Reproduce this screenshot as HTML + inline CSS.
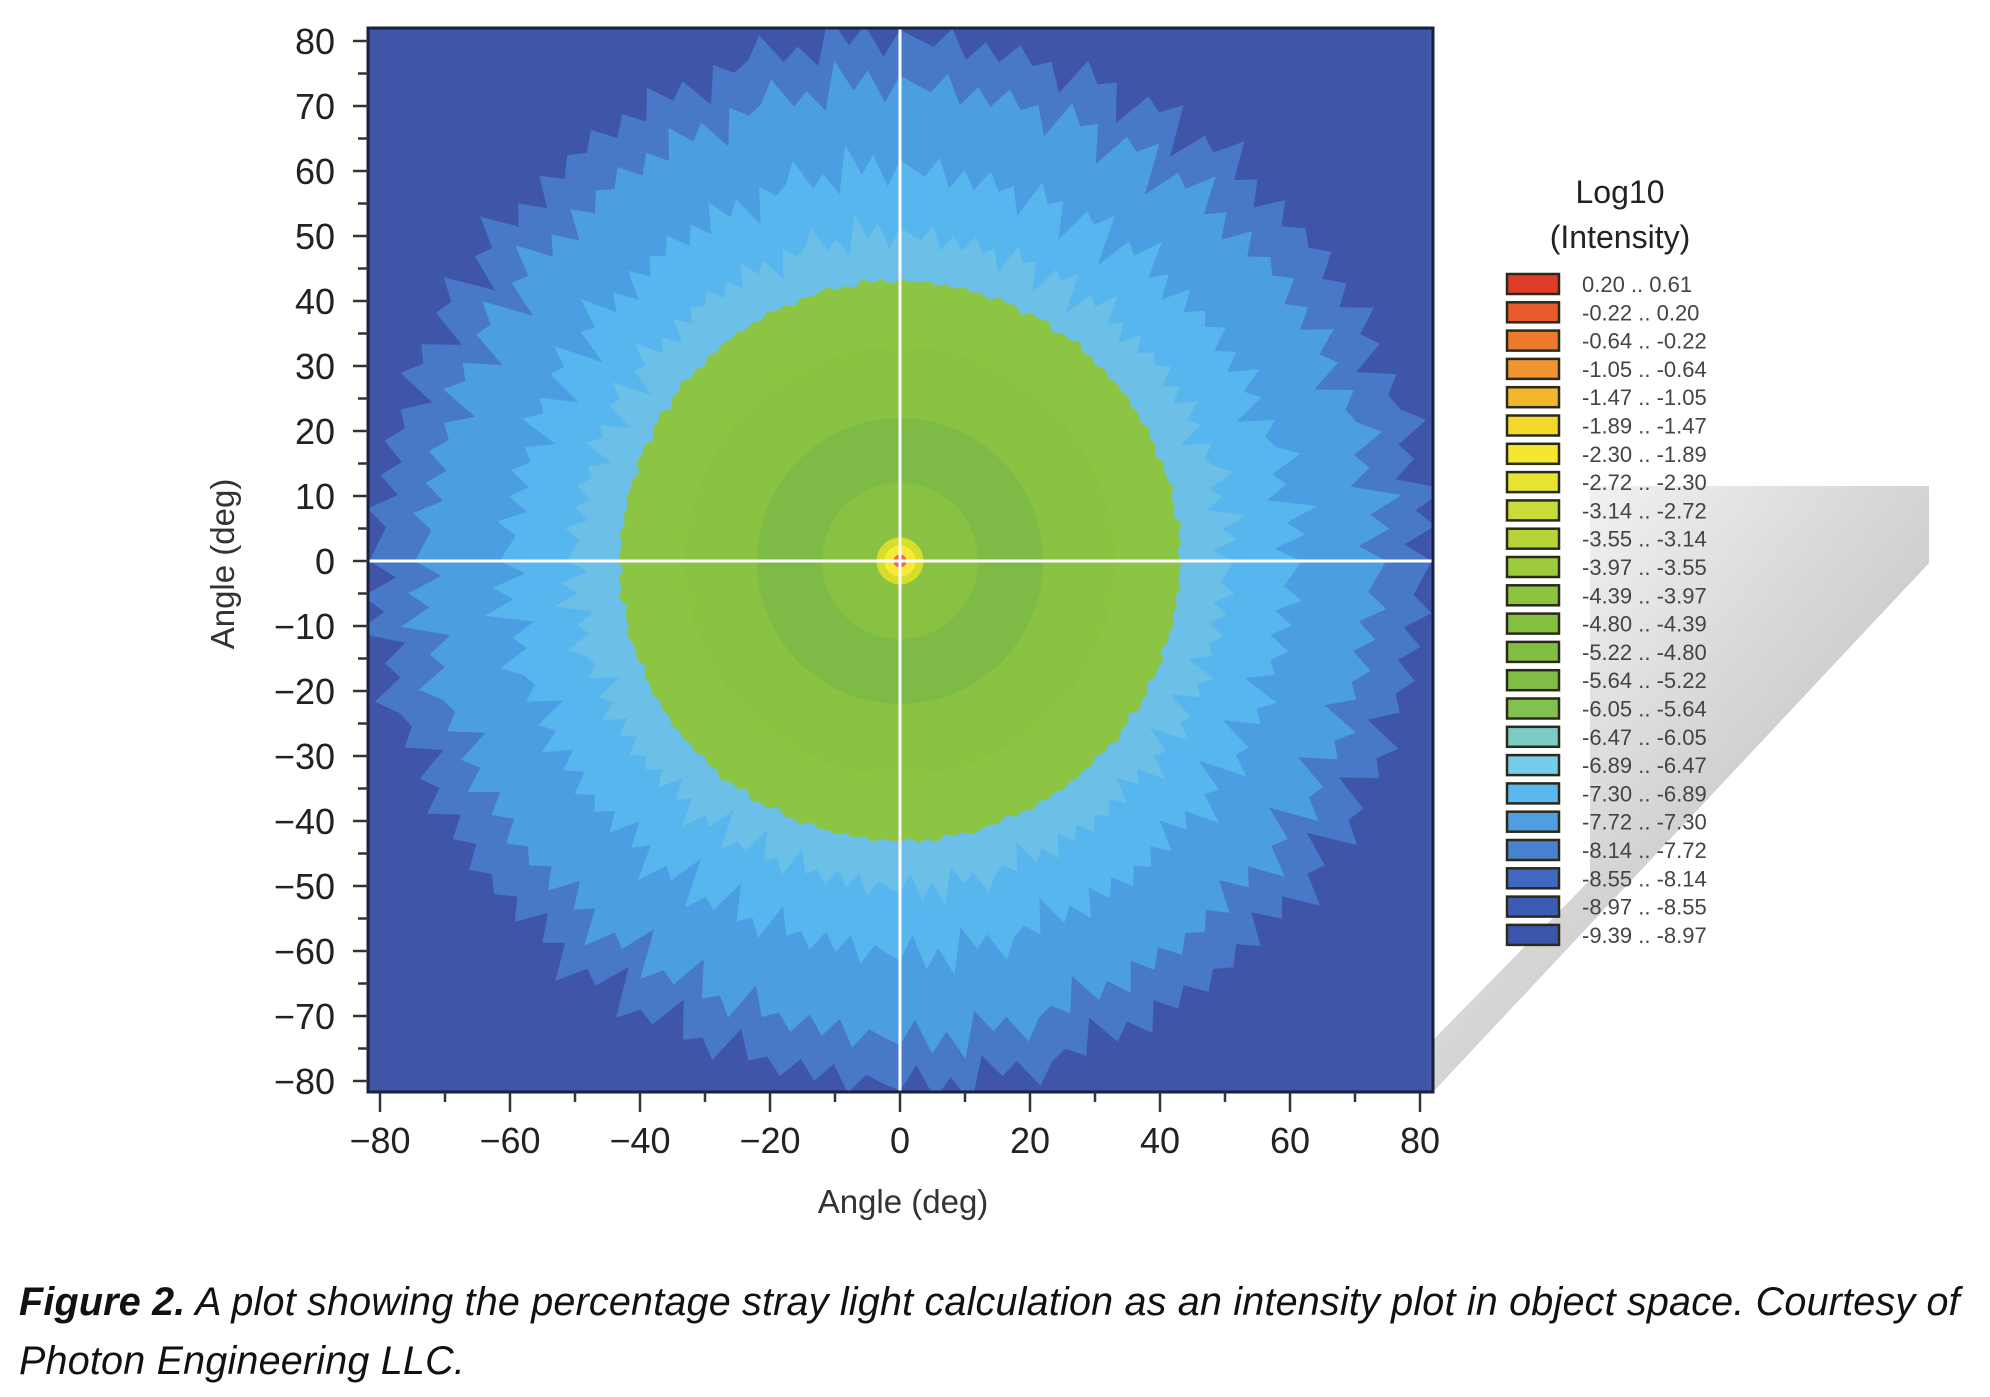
<!DOCTYPE html>
<html><head><meta charset="utf-8"><style>
body{margin:0;width:1990px;height:1397px;background:#fff;overflow:hidden;font-family:"Liberation Sans",sans-serif}
svg{position:absolute;left:0;top:0}
.cap{position:absolute;left:19px;font-size:39.5px;font-style:italic;color:#111;line-height:59px;top:1273px;white-space:nowrap;letter-spacing:0.2px}
</style></head><body>
<svg width="1990" height="1397" id="chart">
<defs>
<linearGradient id="sh" x1="0" y1="0" x2="1" y2="1"><stop offset="0" stop-color="#fff"/><stop offset="0.55" stop-color="#c4c4c4"/><stop offset="1" stop-color="#8a8a8a"/></linearGradient>
<clipPath id="pc"><rect x="368" y="28" width="1065" height="1064"/></clipPath>
</defs>
<polygon points="1590,486 1929,486 1929,563 1433,1092 1433,1040 1590,880" fill="url(#sh)" opacity="0.8"/>
<g id="plot" clip-path="url(#pc)">
<rect x="368" y="28" width="1065" height="1064" fill="#3f56a8"/>
</g>
<g id="axes"></g>
<g id="legend"></g>
</svg>
<div class="cap"><b>Figure 2.</b> A plot showing the percentage stray light calculation as an intensity plot in object space. Courtesy of<br>Photon Engineering LLC.</div>
<script>
// radial bands: outer radius (deg) and color, drawn outermost first
const bandRadius=[80,73,60,50,43,33,22,12,3.6,2.4,1];
const bandColor=["#4878c8","#4c9ee2","#58b6ee","#6cbfe6","#8cc443","#8ac242","#7dbb46","#89c243","#d6de2a","#f6ea38","#f06060"];
const bandJitter=[1,1,1,0.8,0.15,0,0,0,0,0,0];
// angular perturbation of outer bands (deg), 48 directions
const spike=[3,-4,5,-2,6,-5,2,-6,4,1,-3,5,-4,3,-5,6,-2,4,-6,3,-1,5,-4,2,-5,4,-3,6,-2,3,-6,5,-1,4,-5,2,-3,6,-4,1,-5,3,-2,5,-6,4,-1,3];
const xTicks=[-80,-60,-40,-20,0,20,40,60,80];
const yTicks=[80,70,60,50,40,30,20,10,0,-10,-20,-30,-40,-50,-60,-70,-80];
const legendLow=["0.20","-0.22","-0.64","-1.05","-1.47","-1.89","-2.30","-2.72","-3.14","-3.55","-3.97","-4.39","-4.80","-5.22","-5.64","-6.05","-6.47","-6.89","-7.30","-7.72","-8.14","-8.55","-8.97","-9.39"];
const legendHigh=["0.61","0.20","-0.22","-0.64","-1.05","-1.47","-1.89","-2.30","-2.72","-3.14","-3.55","-3.97","-4.39","-4.80","-5.22","-5.64","-6.05","-6.47","-6.89","-7.30","-7.72","-8.14","-8.55","-8.97"];
const legendColor=["#e03a2a","#e85a2a","#ec7a2c","#ef9430","#f2b72c","#f5d92a","#f4e72e","#e6e432","#c9db38","#b6d43a","#9ccb3e","#8cc43f","#86c040","#82be42","#80bd45","#82c050","#7ccbc4","#76cdea","#5ab8ec","#4e9ee0","#4a80d0","#4068c0","#3c5cb4","#3c55ac"];
const NS="http://www.w3.org/2000/svg";
const S=6.5;
const X=v=>900+v*S, Y=v=>561-v*S, R=r=>r*S;
function mk(t,a,p){const e=document.createElementNS(NS,t);for(const k in a)e.setAttribute(k,a[k]);p.appendChild(e);return e;}
const plot=document.getElementById('plot');
bandRadius.forEach((r,i)=>{
  let pts=[];const n=spike.length*4;
  for(let k=0;k<n;k++){const a=k/n*2*Math.PI;const s=spike[k%spike.length]*(k%2?0.6:1)*bandJitter[i];
    const rr=r+s*(0.6+0.4*Math.sin(k*1.7));pts.push((X(0)+R(rr)*Math.cos(a)).toFixed(1)+','+(Y(0)-R(rr)*Math.sin(a)).toFixed(1));}
  const p=mk('polygon',{points:pts.join(' '),fill:bandColor[i]},plot);
  
  
});
const ax=document.getElementById('axes');
let l1=mk('line',{x1:X(0),x2:X(0),y1:28,y2:1092,stroke:'#fff','stroke-width':3},ax);


let l2=mk('line',{x1:368,x2:1433,y1:Y(0),y2:Y(0),stroke:'#fff','stroke-width':3},ax);


let fr=mk('rect',{x:368,y:28,width:1065,height:1064,fill:'none',stroke:'#1a2040','stroke-width':3},ax);


for(let v=-80;v<=80;v+=5){mk('line',{x1:368,x2:v%10==0?353:358,y1:Y(v),y2:Y(v),stroke:'#333','stroke-width':2.5},ax);}
for(let v=-80;v<=80;v+=10){mk('line',{x1:X(v),x2:X(v),y1:1092,y2:v%20==0?1112:1102,stroke:'#333','stroke-width':2.5},ax);}
const fmt=v=>v<0?'\u2212'+(-v):''+v;
xTicks.forEach(v=>{const t=mk('text',{x:X(v),y:1153,'text-anchor':'middle','font-size':36,fill:'#222'},ax);t.textContent=fmt(v);
  
  });
yTicks.forEach(v=>{const t=mk('text',{x:335,y:Y(v)+13,'text-anchor':'end','font-size':36,fill:'#222'},ax);t.textContent=fmt(v);
  
  });
let xt=mk('text',{x:903,y:1213,'text-anchor':'middle','font-size':33,fill:'#333'},ax);xt.textContent='Angle (deg)';


let yt=mk('text',{x:0,y:0,'text-anchor':'middle','font-size':33,fill:'#333',transform:'translate(234,564) rotate(-90)'},ax);yt.textContent='Angle (deg)';


const lg=document.getElementById('legend');
let lt=mk('text',{x:1620,y:203,'text-anchor':'middle','font-size':32,fill:'#222'},lg);lt.textContent='Log10';


let lt2=mk('text',{x:1620,y:248,'text-anchor':'middle','font-size':32,fill:'#222'},lg);lt2.textContent='(Intensity)';


legendColor.forEach((c,i)=>{const y=274+i*28.3;
  const r=mk('rect',{x:1507,y:y,width:52,height:20,fill:c,stroke:'#2a2a1a','stroke-width':2.5},lg);
  
  
  const t=mk('text',{x:1582,y:y+18,'font-size':22,fill:'#444'},lg);t.textContent=legendLow[i]+' .. '+legendHigh[i];
  
  });
</script>
</body></html>
